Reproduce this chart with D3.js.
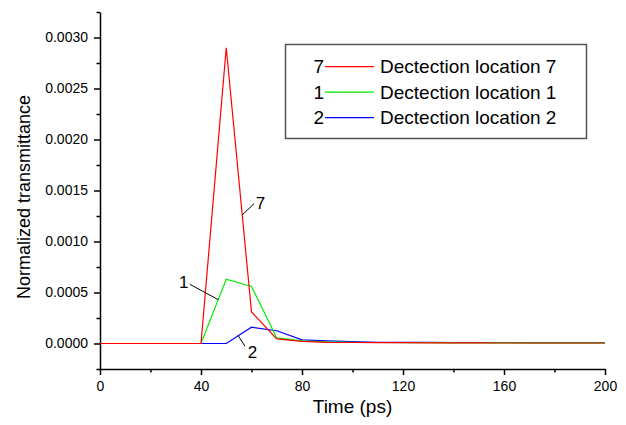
<!DOCTYPE html>
<html lang="en">
<head>
    <meta charset="UTF-8">
    <title>Normalized transmittance vs time</title>
    <script src="https://d3js.org/d3.v7.min.js"></script>
    <style>
        body { margin: 0; background: #fff; }
        svg { font-family: Arial, "Liberation Sans", sans-serif; }
        .axis path, .axis line { stroke: #000; stroke-width: 1.5px; }
        .axis text { font-size: 14px; fill: #000; }
        .series { fill: none; stroke-width: 1.2px; }
    </style>
</head>
<body>
<div id="chart"></div>
<script>
    // time samples (ps)
    const times = [0, 10, 20, 30, 40, 50, 60, 70, 80, 90, 100, 110, 120, 130, 140, 150, 160, 170, 180, 190, 200];

    // values
    const loc7 = [0, 0, 0, 0, 0, 0.0029, 0.00031, 0.000045, 0.00002, 0.000012, 0.00001, 0.000008, 0.000008, 0.000007, 0.000006, 0.000006, 0.000005, 0.000005, 0.000005, 0.000005, 0.000005];
    const loc1 = [0, 0, 0, 0, 0, 0.00063, 0.00056, 0.000055, 0.000025, 0.000015, 0.000012, 0.00001, 0.000009, 0.000008, 0.000007, 0.000007, 0.000006, 0.000006, 0.000006, 0.000006, 0.000006];
    const loc2 = [0, 0, 0, 0, 0, 0, 0.00016, 0.000125, 0.000035, 0.000025, 0.000018, 0.000012, 0.000012, 0.000011, 0.00001, 0.00001, 0.00001, 0.000009, 0.000009, 0.000009, 0.000009];

    const xTicks = [0, 40, 80, 120, 160, 200];
    const yTicks = [0, 0.0005, 0.001, 0.0015, 0.002, 0.0025, 0.003];

    const series = [
        { key: "7", name: "Dectection location 7", values: loc7, color: "#ff0000" },
        { key: "1", name: "Dectection location 1", values: loc1, color: "#00ee00" },
        { key: "2", name: "Dectection location 2", values: loc2, color: "#0000ff" }
    ];

    // in-plot labels: text position and leader line, in data units
    const callouts = [
        { key: "7", tx: 63.6, ty: 0.00138, x1: 56.3, y1: 0.00126, x2: 61, y2: 0.00137 },
        { key: "1", tx: 33.2, ty: 0.0006, x1: 35.6, y1: 0.00058, x2: 46.8, y2: 0.00043 },
        { key: "2", tx: 60.4, ty: -0.00008, x1: 54.7, y1: 0.000078, x2: 57.4, y2: -0.000026 }
    ];

    const width = 626, height = 425;
    const margin = { top: 12, right: 21, bottom: 56, left: 100 };

    const svg = d3.select("#chart").append("svg")
        .attr("width", width)
        .attr("height", height);

    const x = d3.scaleLinear().domain([0, 200]).range([margin.left, width - margin.right]);
    const y = d3.scaleLinear().domain([-0.00025, 0.00325]).range([height - margin.bottom, margin.top]);

    // minor ticks first, then major ticks with labels
    svg.append("g")
        .attr("class", "axis")
        .attr("transform", `translate(0,${height - margin.bottom})`)
        .call(d3.axisBottom(x).tickValues(d3.range(20, 200, 40)).tickSize(3.5).tickFormat(""))
        .call(g => g.select(".domain").remove());
    svg.append("g")
        .attr("class", "axis")
        .attr("transform", `translate(0,${height - margin.bottom})`)
        .call(d3.axisBottom(x).tickValues(xTicks).tickSize(6).tickPadding(6).tickSizeOuter(0));

    svg.append("g")
        .attr("class", "axis")
        .attr("transform", `translate(${margin.left},0)`)
        .call(d3.axisLeft(y).tickValues([-0.00025, 0.00025, 0.00075, 0.00125, 0.00175, 0.00225, 0.00275, 0.00325]).tickSize(3.5).tickFormat(""))
        .call(g => g.select(".domain").remove());
    svg.append("g")
        .attr("class", "axis")
        .attr("transform", `translate(${margin.left},0)`)
        .call(d3.axisLeft(y).tickValues(yTicks).tickSize(6).tickPadding(6).tickSizeOuter(0).tickFormat(d3.format(".4f")));

    // axis titles
    svg.append("text")
        .attr("x", (x(0) + x(200)) / 2)
        .attr("y", 413)
        .attr("text-anchor", "middle")
        .style("font-size", "19px")
        .text("Time (ps)");

    svg.append("text")
        .attr("transform", "translate(30,197) rotate(-90)")
        .attr("text-anchor", "middle")
        .style("font-size", "18px")
        .text("Normalized transmittance");

    // series lines
    const line = d3.line()
        .x((d, i) => x(times[i]))
        .y(d => y(d));

    svg.append("g")
        .selectAll("path")
        .data(series.slice().reverse())
        .join("path")
        .attr("class", "series")
        .attr("stroke", d => d.color)
        .attr("d", d => line(d.values));

    // callouts
    const co = svg.append("g");
    co.selectAll("line")
        .data(callouts)
        .join("line")
        .attr("x1", d => x(d.x1)).attr("y1", d => y(d.y1))
        .attr("x2", d => x(d.x2)).attr("y2", d => y(d.y2))
        .attr("stroke", "#000")
        .attr("stroke-width", 1);
    co.selectAll("text")
        .data(callouts)
        .join("text")
        .attr("x", d => x(d.tx))
        .attr("y", d => y(d.ty))
        .attr("dy", "0.35em")
        .attr("text-anchor", "middle")
        .style("font-size", "17px")
        .text(d => d.key);

    // legend
    const legend = svg.append("g");
    legend.append("rect")
        .attr("x", 285.5).attr("y", 44.5)
        .attr("width", 301).attr("height", 94)
        .attr("fill", "#fff")
        .attr("stroke", "#555")
        .attr("stroke-width", 1.5);

    const rows = legend.selectAll("g.row")
        .data(series)
        .join("g")
        .attr("class", "row")
        .attr("transform", (d, i) => `translate(0,${66.7 + i * 25.5})`);
    rows.append("text")
        .attr("x", 324).attr("dy", "0.35em")
        .attr("text-anchor", "end")
        .style("font-size", "19px")
        .text(d => d.key);
    rows.append("line")
        .attr("x1", 325).attr("x2", 374)
        .attr("stroke", d => d.color)
        .attr("stroke-width", 1.2);
    rows.append("text")
        .attr("x", 380).attr("dy", "0.35em")
        .style("font-size", "19px")
        .text(d => d.name);
</script>
</body>
</html>
